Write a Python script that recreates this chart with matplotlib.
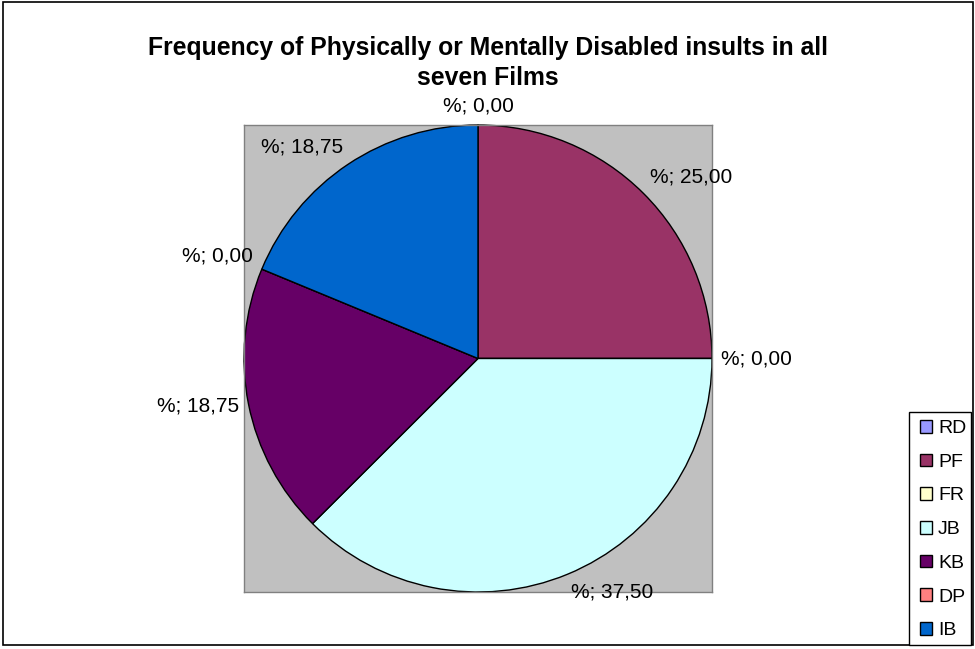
import numpy as np
import matplotlib
matplotlib.use("Agg")
import matplotlib.pyplot as plt
from matplotlib.patches import Rectangle, Patch

films = ["RD", "PF", "FR", "JB", "KB", "DP", "IB"]
percent = [0.00, 25.00, 0.00, 37.50, 18.75, 0.00, 18.75]
colors = ["#9999FF", "#993366", "#FFFFCC", "#CCFFFF", "#660066", "#FF8080", "#0066CC"]
title = "Frequency of Physically or Mentally Disabled insults in all\nseven Films"

plt.rcParams["font.family"] = ["Liberation Sans", "DejaVu Sans"]

W, H = 975, 649
fig = plt.figure(figsize=(W / 100, H / 100), dpi=100)
fig.patch.set_facecolor("white")
fig.add_artist(Rectangle((3 / W, 1 - 645 / H), 970 / W, 643 / H,
                         transform=fig.transFigure, fill=False,
                         edgecolor="black", linewidth=1.2))

ax = fig.add_axes([244 / W, 1 - 592 / H, 468 / W, 467 / H])
ax.pie(percent, colors=colors, startangle=90, counterclock=False, radius=1.0,
       wedgeprops=dict(edgecolor="black", linewidth=1.0))
ax.set_frame_on(True)
ax.patch.set_visible(True)
ax.set_facecolor("#C0C0C0")
for s in ax.spines.values():
    s.set_visible(True)
    s.set_edgecolor("#808080")
    s.set_linewidth(1.0)
ax.set_xlim(-1.0, 1.0)
ax.set_ylim(-1.0, 1.0)
ax.set_aspect("auto")
ax.set_xticks([])
ax.set_yticks([])

# data labels outside each slice, positioned from the slice mid-angle
total = sum(percent)
cum = 0.0
for v in percent:
    mid = (cum + v / 2) / total * 2 * np.pi
    cum += v
    s, c = np.sin(mid), np.cos(mid)
    r = 1.04
    x, y = r * s, r * c
    ha = "left" if s > 0.1 else ("right" if s < -0.1 else "center")
    va = "bottom" if c > 0.3 else ("top" if c < -0.3 else "center")
    ax.text(x, y, "%; " + f"{v:.2f}".replace(".", ","), ha=ha, va=va,
            fontsize=15, clip_on=False)

fig.text(0.5, 0.945, title, ha="center", va="top", fontsize=17.8,
         fontweight="bold", linespacing=1.35)

# legend box with Excel-style wide right margin
box_l, box_r, box_t, box_b = 909, 971, 412, 645
fig.add_artist(Rectangle((box_l / W, 1 - box_b / H), (box_r - box_l) / W,
                         (box_b - box_t) / H, transform=fig.transFigure,
                         facecolor="white", edgecolor="black", linewidth=1.0,
                         zorder=2))
handles = [Patch(facecolor=c, edgecolor="black", linewidth=1.0) for c in colors]
leg = fig.legend(handles, films, loc="upper left",
                 bbox_to_anchor=(920 / W, 1 - 420 / H),
                 fontsize=14, frameon=False, handlelength=0.62,
                 handleheight=0.62, handletextpad=0.3, labelspacing=0.85,
                 borderpad=0, borderaxespad=0)
leg.set_zorder(3)

fig.savefig("out.png", dpi=100)
